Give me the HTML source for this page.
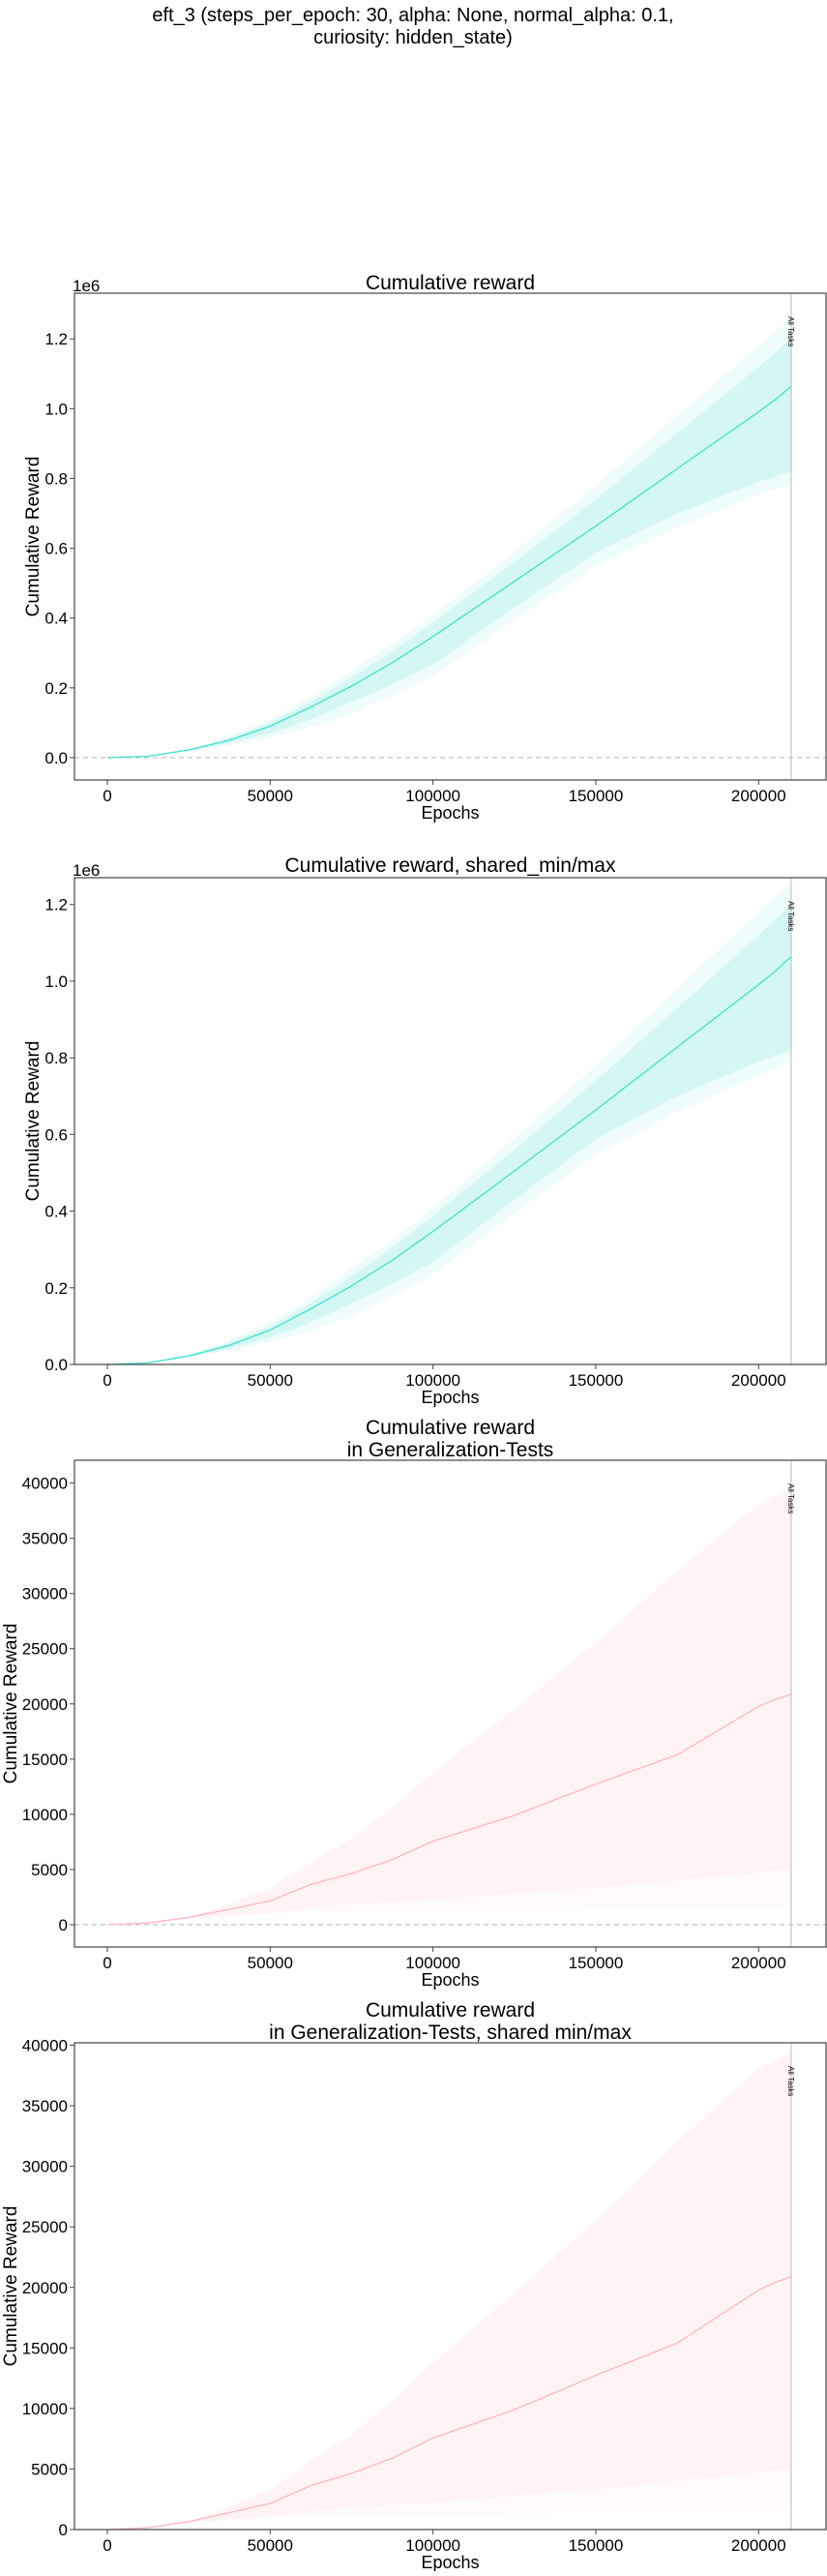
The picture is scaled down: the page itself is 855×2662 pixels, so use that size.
<!DOCTYPE html>
<html><head><meta charset="utf-8"><style>
html,body{margin:0;padding:0;background:#fff;}
svg text{font-family:"Liberation Sans",sans-serif;fill:#000;}
</style></head><body>
<svg id="fig" width="855" height="2657" viewBox="0 0 855 2657">
<text x="427" y="22" font-size="20" text-anchor="middle">eft_3 (steps_per_epoch: 30, alpha: None, normal_alpha: 0.1,</text>
<text x="427" y="45" font-size="20" text-anchor="middle">curiosity: hidden_state)</text>
</svg>
<script>
// shared x positions (epochs)
const epochs = [0, 12500, 25000, 37500, 50000, 62500, 75000, 87500, 100000, 125000, 150000, 175000, 200000, 205000, 210000];
// cumulative reward (units of 1e6)
const rewMean   = [0, 0.004, 0.022, 0.05, 0.09, 0.145, 0.205, 0.272, 0.347, 0.505, 0.664, 0.828, 0.991, 1.025, 1.064];
const rewInnerHi= [0, 0.005, 0.025, 0.056, 0.10, 0.16, 0.23, 0.305, 0.387, 0.56, 0.74, 0.93, 1.12, 1.16, 1.20];
const rewInnerLo= [0, 0.003, 0.02, 0.042, 0.07, 0.11, 0.16, 0.21, 0.267, 0.43, 0.588, 0.70, 0.79, 0.805, 0.82];
const rewOuterHi= [0, 0.006, 0.027, 0.062, 0.11, 0.175, 0.25, 0.325, 0.407, 0.59, 0.78, 0.98, 1.18, 1.22, 1.257];
const rewOuterLo= [0, 0.003, 0.018, 0.036, 0.057, 0.088, 0.126, 0.18, 0.236, 0.395, 0.548, 0.66, 0.755, 0.77, 0.787];
// generalization cumulative reward
const genMean   = [0, 150, 660, 1400, 2160, 3640, 4640, 5900, 7560, 9900, 12730, 15390, 19780, 20400, 20880];
const genInnerHi= [0, 220, 680, 1900, 3300, 5600, 7800, 10600, 13700, 19500, 25500, 32000, 38000, 38700, 39400];
const genInnerLo= [0, 120, 560, 820, 1070, 1500, 1850, 2050, 2230, 2800, 3320, 4000, 4700, 4900, 5050];
const genOuterHi= [0, 230, 700, 1950, 3350, 5700, 7900, 10700, 13850, 19650, 25600, 32100, 38200, 38900, 39550];
const genOuterLo= [0, 110, 500, 750, 970, 1040, 1080, 1100, 1130, 1250, 1380, 1480, 1560, 1580, 1600];
const xTicks = [0, 50000, 100000, 150000, 200000];
const rewTicks = [0, 0.2, 0.4, 0.6, 0.8, 1.0, 1.2];
const genTicks = [0, 5000, 10000, 15000, 20000, 25000, 30000, 35000, 40000];

const NS = "http://www.w3.org/2000/svg";
const svg = document.getElementById('fig');
function mk(tag, attrs, parent){
  const e = document.createElementNS(NS, tag);
  for (const k in attrs) e.setAttribute(k, attrs[k]);
  (parent||svg).appendChild(e);
  return e;
}
const L = 77, R = 854;
const xScale = v => 111 + (v/200000)*(784.3-111);

function panel(cfg){
  const g = mk('g', {});
  
  
  const T = cfg.top, B = cfg.top + 503;
  const y = v => B - (v - cfg.ymin)/(cfg.ymax - cfg.ymin)*(B - T);
  const band = (hi, lo, fill, nm) => {
    let d = 'M' + epochs.map((e,i)=>xScale(e).toFixed(1)+','+y(hi[i]).toFixed(1)).join('L');
    for (let i=epochs.length-1;i>=0;i--) d += 'L'+xScale(epochs[i]).toFixed(1)+','+y(lo[i]).toFixed(1);
    const p = mk('path', {d: d+'Z', fill: fill, stroke:'none'}, g);
    
    
  };
  band(cfg.oHi, cfg.oLo, cfg.outerFill, 'min-max-band');
  band(cfg.iHi, cfg.iLo, cfg.innerFill, 'std-band');
  if (cfg.zeroLine){
    const zl = mk('line', {x1:L, x2:R, y1:y(0), y2:y(0), stroke:'#bbb', 'stroke-width':1.2, 'stroke-dasharray':'5,4'}, g);
    
    
  }
  const ln = mk('polyline', {points: epochs.map((e,i)=>xScale(e).toFixed(1)+','+y(cfg.mean[i]).toFixed(1)).join(' '), fill:'none', stroke:cfg.lineColor, 'stroke-width':1.3}, g);
  
  
  const vl = mk('line', {x1:xScale(210000), x2:xScale(210000), y1:T, y2:B, stroke:'#bbb', 'stroke-width':1}, g);
  
  
  const at = mk('text', {x:0, y:0, 'font-size':8, fill:'#333', transform:`translate(${xScale(210000)-3},${T+24}) rotate(90)`}, g);
  at.textContent = 'All Tasks';
  
  
  const fr = mk('rect', {x:L, y:T, width:R-L, height:B-T, fill:'none', stroke:'#444', 'stroke-width':1.2}, g);
  
  
  xTicks.forEach(t=>{
    mk('line', {x1:xScale(t), x2:xScale(t), y1:B, y2:B+5, stroke:'#444'}, g);
    const tx = mk('text', {x:xScale(t), y:B+22, 'font-size':17, 'text-anchor':'middle'}, g);
    tx.textContent = t;
    
    
  });
  cfg.ticks.forEach(t=>{
    mk('line', {x1:L-5, x2:L, y1:y(t), y2:y(t), stroke:'#444'}, g);
    const ty = mk('text', {x:L-7, y:y(t)+6, 'font-size':17, 'text-anchor':'end'}, g);
    ty.textContent = cfg.fmt(t);
    
    
  });
  if (cfg.exp){
    const ex = mk('text', {x:L-2, y:T-2, 'font-size':17}, g);
    ex.textContent = cfg.exp;
    
    
  }
  const xl = mk('text', {x:(L+R)/2, y:B+40, 'font-size':18, 'text-anchor':'middle'}, g);
  xl.textContent = 'Epochs';
  
  
  const yl = mk('text', {x:0, y:0, 'font-size':19, 'text-anchor':'middle', transform:`translate(${cfg.ylx},${(T+B)/2}) rotate(-90)`}, g);
  yl.textContent = 'Cumulative Reward';
  
  
  cfg.titles.forEach((s,i)=>{
    const tt = mk('text', {x:(L+R)/2, y:cfg.titleY[i], 'font-size':21, 'text-anchor':'middle'}, g);
    tt.textContent = s;
    
    
  });
}
const cyan = {mean:rewMean, iHi:rewInnerHi, iLo:rewInnerLo, oHi:rewOuterHi, oLo:rewOuterLo,
  lineColor:'#40E0D0', innerFill:'rgba(64,224,208,0.15)', outerFill:'rgba(64,224,208,0.09)',
  ticks:rewTicks, fmt:t=>t.toFixed(1), exp:'1e6', ylx:40};
const pink = {mean:genMean, iHi:genInnerHi, iLo:genInnerLo, oHi:genOuterHi, oLo:genOuterLo,
  lineColor:'#FFB6C1', innerFill:'rgba(255,182,193,0.11)', outerFill:'rgba(255,182,193,0.05)',
  ticks:genTicks, fmt:t=>String(t), exp:null, ylx:17};
panel(Object.assign({}, cyan, {name:'panel-cumulative-reward', top:303, ymin:-0.064, ymax:1.331, zeroLine:true, titles:['Cumulative reward'], titleY:[299]}));
panel(Object.assign({}, cyan, {name:'panel-cumulative-reward-shared', top:907, ymin:0, ymax:1.27, zeroLine:false, titles:['Cumulative reward, shared_min/max'], titleY:[901]}));
panel(Object.assign({}, pink, {name:'panel-generalization', top:1509, ymin:-2020, ymax:42070, zeroLine:true, titles:['Cumulative reward','in Generalization-Tests'], titleY:[1482,1505]}));
panel(Object.assign({}, pink, {name:'panel-generalization-shared', top:2111, ymin:0, ymax:40200, zeroLine:false, titles:['Cumulative reward','in Generalization-Tests, shared min/max'], titleY:[2084,2107]}));
</script>
</body></html>
